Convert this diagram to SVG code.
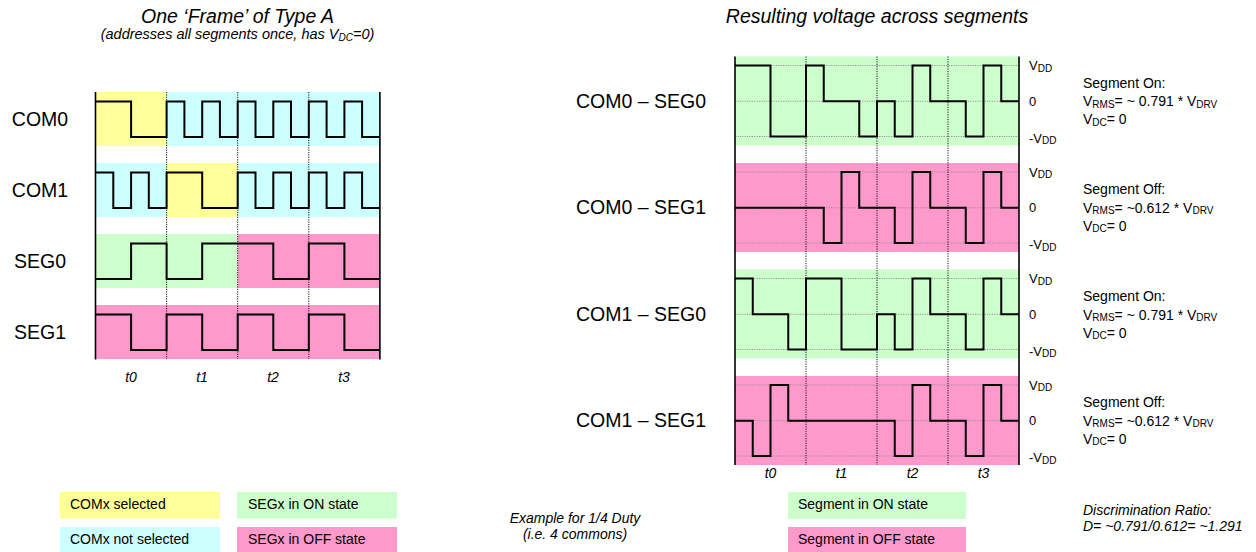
<svg xmlns="http://www.w3.org/2000/svg" width="1256" height="552" viewBox="0 0 1256 552">
<style>
text{font-family:"Liberation Sans",Arial,Helvetica,sans-serif;fill:#000}
.title{font-size:19.5px;font-style:italic;text-anchor:middle}
.sub{font-size:14.5px;font-style:italic;text-anchor:middle}
.lbl{font-size:19.5px}
.t{font-size:14px;font-style:italic;text-anchor:middle}
.ax{font-size:13px}
.info{font-size:14px}
.leg{font-size:14px}
.it{font-size:14px;font-style:italic}
.s{font-size:10px}
.yel{fill:#FFFF99}.cya{fill:#CCFFFF}.grn{fill:#CCFFCC}.pnk{fill:#FF99CC}
.wave{fill:none;stroke:#000;stroke-width:2;stroke-linejoin:miter}
.axis{stroke:#000;stroke-width:1.6}
.div{stroke:#000;stroke-width:0.9;stroke-dasharray:1.2,1.2}
.lev{stroke:#8c8c8c;stroke-width:0.9;stroke-dasharray:1.2,1.2}
</style>

<!-- Titles -->
<text class="title" x="237.5" y="23">One ‘Frame’ of Type A</text>
<text class="sub" x="237.5" y="39">(addresses all segments once, has V<tspan class="s" dy="2">DC</tspan><tspan dy="-2">=0)</tspan></text>
<text class="title" x="877" y="23">Resulting voltage across segments</text>

<!-- LEFT PANEL -->
<g id="com0">
  <rect class="yel" x="95.5" y="92" width="71.1" height="54"/>
  <rect class="cya" x="166.6" y="92" width="213.3" height="54"/>
  <text class="lbl" x="40" y="125.5" text-anchor="middle">COM0</text>
  <path class="wave" d="M95.5,101.5 H131.1 V137 H166.6 V101.5 H184.4 V137 H202.2 V101.5 H219.9 V137 H237.7 V101.5 H255.5 V137 H273.3 V101.5 H291 V137 H308.8 V101.5 H326.6 V137 H344.4 V101.5 H362.1 V137 H379.9"/>
</g>
<g id="com1">
  <rect class="cya" x="95.5" y="163" width="71.1" height="54"/>
  <rect class="yel" x="166.6" y="163" width="71.1" height="54"/>
  <rect class="cya" x="237.7" y="163" width="142.2" height="54"/>
  <text class="lbl" x="40" y="196.5" text-anchor="middle">COM1</text>
  <path class="wave" d="M95.5,172.5 H113.3 V208 H131.1 V172.5 H148.8 V208 H166.6 V172.5 H202.2 V208 H237.7 V172.5 H255.5 V208 H273.3 V172.5 H291 V208 H308.8 V172.5 H326.6 V208 H344.4 V172.5 H362.1 V208 H379.9"/>
</g>
<g id="seg0">
  <rect class="grn" x="95.5" y="234" width="142.2" height="54"/>
  <rect class="pnk" x="237.7" y="234" width="142.2" height="54"/>
  <text class="lbl" x="40" y="267.5" text-anchor="middle">SEG0</text>
  <path class="wave" d="M95.5,279 H131.1 V243.5 H166.6 V279 H202.2 V243.5 H273.3 V279 H308.8 V243.5 H344.4 V279 H379.9"/>
</g>
<g id="seg1">
  <rect class="pnk" x="95.5" y="305" width="284.4" height="54"/>
  <text class="lbl" x="40" y="338.5" text-anchor="middle">SEG1</text>
  <path class="wave" d="M95.5,314.5 H131.1 V350 H166.6 V314.5 H202.2 V350 H237.7 V314.5 H273.3 V350 H308.8 V314.5 H344.4 V350 H379.9"/>
</g>

<g id="left-grid">
  <line class="div" x1="166.6" y1="92" x2="166.6" y2="359"/>
  <line class="div" x1="237.7" y1="92" x2="237.7" y2="359"/>
  <line class="div" x1="308.8" y1="92" x2="308.8" y2="359"/>
  <line class="axis" x1="95.5" y1="92" x2="95.5" y2="359.5"/>
  <line class="axis" x1="379.9" y1="92" x2="379.9" y2="359.5"/>
</g>
<g id="left-time">
  <text class="t" x="131" y="381.5">t0</text>
  <text class="t" x="202" y="381.5">t1</text>
  <text class="t" x="273" y="381.5">t2</text>
  <text class="t" x="344" y="381.5">t3</text>
</g>

<!-- RIGHT PANEL -->
<g id="c0s0">
  <rect class="grn" x="735" y="56.5" width="284" height="89"/>
  <line class="lev" x1="735" y1="65.5" x2="1019" y2="65.5"/>
  <line class="lev" x1="735" y1="101.25" x2="1019" y2="101.25"/>
  <line class="lev" x1="735" y1="136.5" x2="1019" y2="136.5"/>
  <text class="lbl" x="576" y="107.5">COM0 – SEG0</text>
  <path class="wave" d="M735,65.5 H770.5 V136.5 H806 V65.5 H823.75 V101.25 H859.25 V136.5 H877 V101.25 H894.75 V136.5 H912.5 V65.5 H930.25 V101.25 H965.75 V136.5 H983.5 V65.5 H1001.25 V101.25 H1019"/>
  <text class="ax" x="1029" y="70">V<tspan class="s" dy="1.7">DD</tspan></text>
  <text class="ax" x="1029" y="105.7">0</text>
  <text class="ax" x="1029" y="142.5">-V<tspan class="s" dy="1.7">DD</tspan></text>
</g>
<g id="c0s1">
  <rect class="pnk" x="735" y="163" width="284" height="89"/>
  <line class="lev" x1="735" y1="172" x2="1019" y2="172"/>
  <line class="lev" x1="735" y1="207.75" x2="1019" y2="207.75"/>
  <line class="lev" x1="735" y1="243" x2="1019" y2="243"/>
  <text class="lbl" x="576" y="214">COM0 – SEG1</text>
  <path class="wave" d="M735,207.75 H823.75 V243 H841.5 V172 H859.25 V207.75 H894.75 V243 H912.5 V172 H930.25 V207.75 H965.75 V243 H983.5 V172 H1001.25 V207.75 H1019"/>
  <text class="ax" x="1029" y="176.5">V<tspan class="s" dy="1.7">DD</tspan></text>
  <text class="ax" x="1029" y="212.2">0</text>
  <text class="ax" x="1029" y="249">-V<tspan class="s" dy="1.7">DD</tspan></text>
</g>
<g id="c1s0">
  <rect class="grn" x="735" y="269.5" width="284" height="89"/>
  <line class="lev" x1="735" y1="278.5" x2="1019" y2="278.5"/>
  <line class="lev" x1="735" y1="314.25" x2="1019" y2="314.25"/>
  <line class="lev" x1="735" y1="349.5" x2="1019" y2="349.5"/>
  <text class="lbl" x="576" y="320.5">COM1 – SEG0</text>
  <path class="wave" d="M735,278.5 H752.75 V314.25 H788.25 V349.5 H806 V278.5 H841.5 V349.5 H877 V314.25 H894.75 V349.5 H912.5 V278.5 H930.25 V314.25 H965.75 V349.5 H983.5 V278.5 H1001.25 V314.25 H1019"/>
  <text class="ax" x="1029" y="283">V<tspan class="s" dy="1.7">DD</tspan></text>
  <text class="ax" x="1029" y="318.7">0</text>
  <text class="ax" x="1029" y="355.5">-V<tspan class="s" dy="1.7">DD</tspan></text>
</g>
<g id="c1s1">
  <rect class="pnk" x="735" y="376" width="284" height="89"/>
  <line class="lev" x1="735" y1="385" x2="1019" y2="385"/>
  <line class="lev" x1="735" y1="420.75" x2="1019" y2="420.75"/>
  <line class="lev" x1="735" y1="456" x2="1019" y2="456"/>
  <text class="lbl" x="576" y="427">COM1 – SEG1</text>
  <path class="wave" d="M735,420.75 H752.75 V456 H770.5 V385 H788.25 V420.75 H894.75 V456 H912.5 V385 H930.25 V420.75 H965.75 V456 H983.5 V385 H1001.25 V420.75 H1019"/>
  <text class="ax" x="1029" y="389.5">V<tspan class="s" dy="1.7">DD</tspan></text>
  <text class="ax" x="1029" y="425.2">0</text>
  <text class="ax" x="1029" y="462">-V<tspan class="s" dy="1.7">DD</tspan></text>
</g>

<g id="right-grid">
  <line class="div" x1="806" y1="56.5" x2="806" y2="465"/>
  <line class="div" x1="877" y1="56.5" x2="877" y2="465"/>
  <line class="div" x1="948" y1="56.5" x2="948" y2="465"/>
  <line class="axis" x1="735" y1="56.5" x2="735" y2="465"/>
  <line class="axis" x1="1019" y1="56.5" x2="1019" y2="465"/>
</g>
<g id="right-time">
  <text class="t" x="770.5" y="477.5">t0</text>
  <text class="t" x="841.5" y="477.5">t1</text>
  <text class="t" x="912.5" y="477.5">t2</text>
  <text class="t" x="983.5" y="477.5">t3</text>
</g>

<!-- Info blocks -->
<g id="info-on-1">
  <text class="info" x="1083" y="87.5">Segment On:</text>
  <text class="info" x="1083" y="106">V<tspan class="s" dy="1.7">RMS</tspan><tspan dy="-1.7">= ~ 0.791 * V</tspan><tspan class="s" dy="1.7">DRV</tspan></text>
  <text class="info" x="1083" y="124">V<tspan class="s" dy="1.7">DC</tspan><tspan dy="-1.7">= 0</tspan></text>
</g>
<g id="info-off-1">
  <text class="info" x="1083" y="194">Segment Off:</text>
  <text class="info" x="1083" y="212.5">V<tspan class="s" dy="1.7">RMS</tspan><tspan dy="-1.7">= ~0.612 * V</tspan><tspan class="s" dy="1.7">DRV</tspan></text>
  <text class="info" x="1083" y="230.5">V<tspan class="s" dy="1.7">DC</tspan><tspan dy="-1.7">= 0</tspan></text>
</g>
<g id="info-on-2">
  <text class="info" x="1083" y="301">Segment On:</text>
  <text class="info" x="1083" y="319.5">V<tspan class="s" dy="1.7">RMS</tspan><tspan dy="-1.7">= ~ 0.791 * V</tspan><tspan class="s" dy="1.7">DRV</tspan></text>
  <text class="info" x="1083" y="337.5">V<tspan class="s" dy="1.7">DC</tspan><tspan dy="-1.7">= 0</tspan></text>
</g>
<g id="info-off-2">
  <text class="info" x="1083" y="407">Segment Off:</text>
  <text class="info" x="1083" y="425.5">V<tspan class="s" dy="1.7">RMS</tspan><tspan dy="-1.7">= ~0.612 * V</tspan><tspan class="s" dy="1.7">DRV</tspan></text>
  <text class="info" x="1083" y="443.5">V<tspan class="s" dy="1.7">DC</tspan><tspan dy="-1.7">= 0</tspan></text>
</g>

<!-- Legends -->
<g id="legend-left">
  <rect class="yel" x="60" y="492" width="160" height="26.7"/>
  <text class="leg" x="70" y="508.5">COMx selected</text>
  <rect class="cya" x="60" y="527" width="160" height="25"/>
  <text class="leg" x="70" y="544">COMx not selected</text>
  <rect class="grn" x="237" y="492" width="160" height="26.7"/>
  <text class="leg" x="248" y="508.5">SEGx in ON state</text>
  <rect class="pnk" x="237" y="527" width="160" height="25"/>
  <text class="leg" x="248" y="544">SEGx in OFF state</text>
</g>
<g id="note">
  <text class="it" x="575" y="522.5" text-anchor="middle">Example for 1/4 Duty</text>
  <text class="it" x="575" y="539" text-anchor="middle">(i.e. 4 commons)</text>
</g>
<g id="legend-right">
  <rect class="grn" x="788" y="492" width="178" height="27"/>
  <text class="leg" x="798" y="508.5">Segment in ON state</text>
  <rect class="pnk" x="788" y="527" width="178" height="25"/>
  <text class="leg" x="798" y="544">Segment in OFF state</text>
</g>
<g id="ratio">
  <text class="it" x="1083" y="515">Discrimination Ratio:</text>
  <text class="it" x="1083" y="530.5">D= ~0.791/0.612= ~1.291</text>
</g>
<g id="connectors"/>
</svg>
